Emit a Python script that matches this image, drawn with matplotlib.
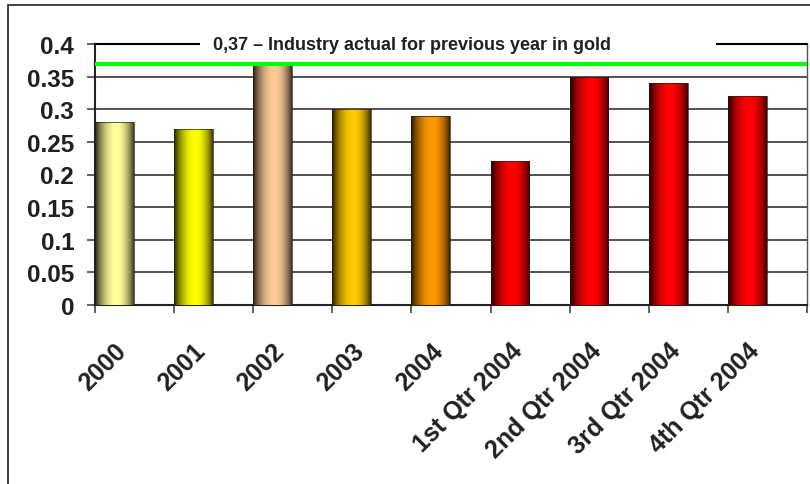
import numpy as np
import matplotlib
matplotlib.use("Agg")
from matplotlib import pyplot as plt
from matplotlib.patches import Rectangle
from matplotlib.colors import to_rgb

# data
categories = ['2000', '2001', '2002', '2003', '2004',
              '1st Qtr 2004', '2nd Qtr 2004', '3rd Qtr 2004', '4th Qtr 2004']
values = [0.28, 0.27, 0.37, 0.30, 0.29, 0.22, 0.35, 0.34, 0.32]
bar_colors = ['#FFFF99', '#FFFF00', '#FFCC99', '#FFCC00', '#FF9900',
              '#FF0000', '#FF0000', '#FF0000', '#FF0000']
industry_value = 0.37
industry_label = '0,37 \u2013 Industry actual for previous year in gold'
yticks = [0, 0.05, 0.1, 0.15, 0.2, 0.25, 0.3, 0.35, 0.4]

plt.rcParams['font.family'] = ['Liberation Sans', 'DejaVu Sans']
plt.rcParams['font.weight'] = 'bold'
txt_color = '#231f20'


def shade(t, peak=0.55):
    # cylinder-like horizontal shading: dark edges, bright just left of centre
    s = np.where(t < peak,
                 0.12 + 0.88 * np.sin(np.pi / 2 * t / peak) ** 0.8,
                 0.22 + 0.78 * np.cos(np.pi / 2 * (t - peak) / (1 - peak)) ** 0.8)
    return s


fig = plt.figure(figsize=(8.1, 4.85), dpi=100)
ax = fig.add_axes([95 / 810, 1 - 306 / 485, 712 / 810, 261 / 485])

# outer frame (bottom/right edges fall outside the picture)
fig.add_artist(Rectangle((8 / 810, -0.1), 1.1, 1 - 6 / 485 + 0.1,
                         transform=fig.transFigure, fill=False,
                         edgecolor='#333333', lw=1.3))

x = np.arange(len(categories))
bars = ax.bar(x - 0.5, values, width=0.49, align='edge',
              facecolor='none', edgecolor='#2a1a10', lw=0.5, zorder=3)

t = np.linspace(0, 1, 80)
for b, c in zip(bars, bar_colors):
    rgb = np.array(to_rgb(c))
    grad = shade(t)[:, None] * rgb[None, :]
    img = ax.imshow(grad[None, :, :], aspect='auto', interpolation='bilinear',
                    extent=(b.get_x(), b.get_x() + b.get_width(), 0, b.get_height()),
                    zorder=2.9)
    img.set_clip_path(b)

ax.axhline(industry_value, color='#00FF00', lw=3, zorder=4)

ax.set_xlim(-0.5, len(categories) - 0.5)
ax.set_ylim(0, 0.4)

# y axis
ax.set_yticks(yticks)
ax.set_yticklabels(['{:g}'.format(v) for v in yticks])
ax.tick_params(axis='y', direction='out', length=6, width=1.2, color='#444444',
               pad=9, labelsize=17.5, labelcolor=txt_color)
ax.yaxis.grid(True, color='#333333', lw=1.2)
ax.set_axisbelow(True)

# x axis: ticks on category boundaries, labels near centres
ax.set_xticks(np.arange(len(categories) + 1) - 0.5)
ax.set_xticklabels([])
ax.tick_params(axis='x', which='major', direction='out', length=6, width=1.2,
               color='#444444')
ax.set_xticks(x - 0.15, categories, minor=True)
ax.tick_params(axis='x', which='minor', length=0, pad=30, labelsize=18,
               labelcolor=txt_color)
for lbl in ax.get_xticklabels(minor=True):
    lbl.set_rotation(45)
    lbl.set_ha('right')
    lbl.set_va('center')
    lbl.set_rotation_mode('anchor')

for side in ['left', 'bottom']:
    ax.spines[side].set_color('#222222')
    ax.spines[side].set_linewidth(1.5)
ax.spines['top'].set_color('black')
ax.spines['top'].set_linewidth(1.5)
ax.spines['right'].set_color('#555555')
ax.spines['right'].set_linewidth(1.0)

# label box interrupting the top line
ax.add_patch(Rectangle(((200 - 95) / 712, 0.96), (716 - 200) / 712, 0.08,
                       transform=ax.transAxes, facecolor='white',
                       edgecolor='none', clip_on=False, zorder=5))
ax.text((213 - 95) / 712, 1.0, industry_label, transform=ax.transAxes,
        ha='left', va='center', fontsize=13, fontweight='bold',
        color=txt_color, zorder=6)

fig.savefig('out.png', dpi=100)
